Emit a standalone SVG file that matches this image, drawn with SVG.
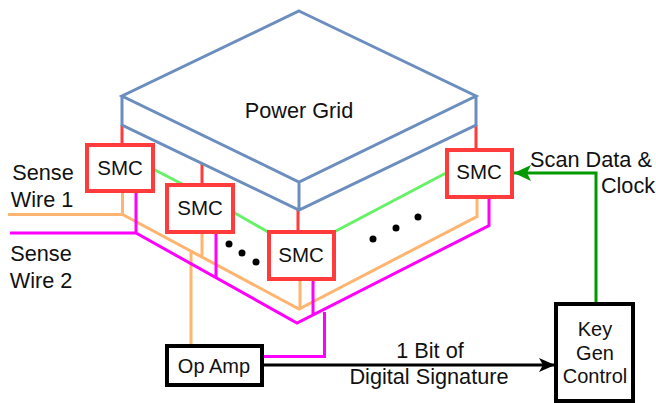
<svg xmlns="http://www.w3.org/2000/svg" width="656" height="403" viewBox="0 0 656 403">
<style>
text{font-family:"Liberation Sans",Arial,sans-serif;font-size:20px;fill:#111;text-anchor:middle}
.l{font-size:21.700px}
.s{font-size:20.500px}
.w{fill:none;stroke-linejoin:miter}
.b{stroke:#6c8ebf;stroke-width:3}
.r{stroke:#ff3b3b;stroke-width:3}
.g{stroke:#66f266;stroke-width:3}
.o{stroke:#ffb570;stroke-width:3}
.m{stroke:#ff00ff;stroke-width:3}
.smc{fill:#fff;stroke:#ff3b3b;stroke-width:4}
.blk{fill:#fff;stroke:#000;stroke-width:4}
.d{fill:#000}
</style>
<defs>
<marker id="ak" markerUnits="userSpaceOnUse" markerWidth="16" markerHeight="14" refX="16" refY="7" orient="auto" viewBox="0 0 16 14"><path d="M0 0L16 7L0 14L4 7Z" fill="#000"/></marker>
<marker id="ag" markerUnits="userSpaceOnUse" markerWidth="17" markerHeight="16" refX="17" refY="8" orient="auto" viewBox="0 0 17 16"><path d="M0 0L17 8L0 16L4 8Z" fill="#009900"/></marker>
</defs>
<g id="connectors">
<path class="w r" d="M122 125V146M202 163V187M298 210V234M476 125V151"/>
<path class="w g" d="M153 169L184 185M233 212L268 232M334 232L446 173"/>
<path class="w o" d="M8 214.500H122.500L299 309L477 216.500V195M122.500 192V214.500M202 232V256M300 279V309M191 252V346"/>
<path class="w m" d="M10 233H136L297 323L489 225.500V193M136 192V233M216 232V278M313 279V314M324.500 312V356.500H263"/>
<path fill="none" stroke="#000" stroke-width="3" d="M262 365H555" marker-end="url(#ak)"/>
<path fill="none" stroke="#009900" stroke-width="3" d="M596 303V173H514" marker-end="url(#ag)"/>
</g>
<g id="power-grid">
<path class="w b" d="M299 11L476 96L299 182L122 96ZM122 96V125L299 210L476 125V96M299 182V210"/>
<text class="l" x="299" y="118">Power Grid</text>
</g>
<g id="smc-1"><rect class="smc" x="87" y="145" width="66" height="46"/><text class="s" x="120" y="175">SMC</text></g>
<g id="smc-2"><rect class="smc" x="167" y="185" width="66" height="47"/><text class="s" x="200" y="215">SMC</text></g>
<g id="smc-3"><rect class="smc" x="269" y="232" width="65" height="47"/><text class="s" x="301" y="262">SMC</text></g>
<g id="smc-4"><rect class="smc" x="447" y="150" width="65" height="47"/><text class="s" x="479" y="179">SMC</text></g>
<g id="op-amp"><rect class="blk" x="167" y="346" width="95" height="39"/><text x="214" y="373">Op Amp</text></g>
<g id="key-gen"><rect class="blk" x="556" y="304" width="77" height="97"/><text x="595" y="336">Key</text><text x="595" y="360">Gen</text><text x="595" y="383">Control</text></g>
<g id="dots">
<circle class="d" cx="229" cy="244" r="3.500"/><circle class="d" cx="242" cy="253" r="3.500"/><circle class="d" cx="256" cy="262" r="3.500"/>
<circle class="d" cx="373" cy="239" r="3.500"/><circle class="d" cx="396" cy="228" r="3.500"/><circle class="d" cx="418" cy="217" r="3.500"/>
</g>
<g id="labels">
<text class="l" x="43" y="180">Sense</text><text class="l" x="42" y="207">Wire 1</text>
<text class="l" x="41" y="261">Sense</text><text class="l" x="41" y="288">Wire 2</text>
<text class="l" x="591" y="167">Scan Data &amp;</text><text class="l" x="628" y="193">Clock</text>
<text class="l" x="430" y="358">1 Bit of</text><text class="l" x="429" y="384">Digital Signature</text>
</g>
</svg>
